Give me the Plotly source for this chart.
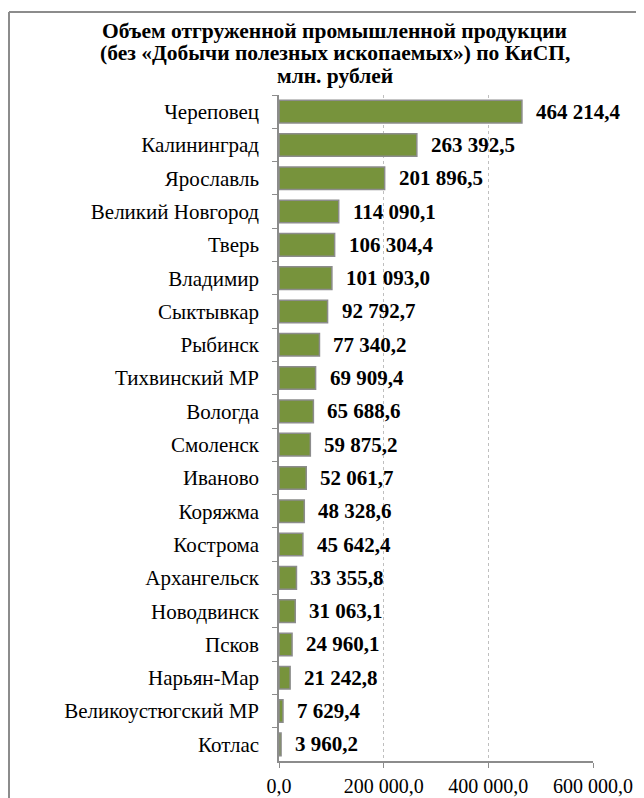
import plotly.graph_objects as go

categories = ["Череповец", "Калининград", "Ярославль", "Великий Новгород", "Тверь",
              "Владимир", "Сыктывкар", "Рыбинск", "Тихвинский МР", "Вологда",
              "Смоленск", "Иваново", "Коряжма", "Кострома", "Архангельск",
              "Новодвинск", "Псков", "Нарьян-Мар", "Великоустюгский МР", "Котлас"]
values = [464214.4, 263392.5, 201896.5, 114090.1, 106304.4,
          101093.0, 92792.7, 77340.2, 69909.4, 65688.6,
          59875.2, 52061.7, 48328.6, 45642.4, 33355.8,
          31063.1, 24960.1, 21242.8, 7629.4, 3960.2]
tick_vals = [0, 200000, 400000, 600000]
tick_text = ["0,0", "200 000,0", "400 000,0", "600 000,0"]
title_lines = ["Объем отгруженной промышленной продукции",
               "(без «Добычи полезных ископаемых») по КиСП,",
               "млн. рублей"]


def fmt(v):
    s = f"{v:,.1f}".replace(",", " ").replace(".", ",")
    return s


FONT = "Liberation Serif"

# page is offset by the 8px body margin
W, H = 636, 790
L, R, T, B = 271, 51, 87, 37
PW, PH = W - L - R, H - T - B

fig = go.Figure()
fig.add_trace(go.Bar(
    x=values, y=categories, orientation="h",
    marker=dict(color="#77933C", line=dict(color="#8C8C8C", width=1.5)),
    hoverinfo="skip",
))

for c, v in zip(categories, values):
    fig.add_annotation(x=v, y=c, text=f"<b>{fmt(v)}</b>", showarrow=False,
                       xanchor="left", xshift=12, yshift=0,
                       font=dict(family=FONT, size=21, color="black"))

title_centers = [23, 45.3, 67.6]  # div pixels from top
for line, cy in zip(title_lines, title_centers):
    fig.add_annotation(xref="paper", yref="paper",
                       x=(326.7 - L) / PW, y=1 + (T - cy) / PH,
                       text=f"<b>{line}</b>", showarrow=False,
                       xanchor="center", yanchor="middle",
                       font=dict(family=FONT, size=21.5, color="black"))

fx = (1 - L) / PW
fy = 1 + (T - 4) / PH
fig.update_layout(
    width=W, height=H,
    margin=dict(l=L, r=R, t=T, b=B),
    paper_bgcolor="white", plot_bgcolor="white",
    bargap=0.32,
    showlegend=False,
    font=dict(family=FONT, size=21, color="black"),
    xaxis=dict(range=[0, 600000], tickvals=tick_vals, ticktext=tick_text,
               showgrid=True, gridcolor="#BFBFBF", griddash="dot", gridwidth=1,
               showline=True, linecolor="#8C8C8C", linewidth=1.5,
               ticks="outside", ticklen=5, tickcolor="#8C8C8C", automargin=False,
               ticklabelstandoff=1,
               zeroline=False, tickfont=dict(family=FONT, size=20, color="black")),
    yaxis=dict(autorange="reversed", showline=True, linecolor="#8C8C8C", linewidth=1.5,
               ticks="outside", ticklen=5, tickcolor="#8C8C8C", tickson="boundaries",
               ticklabelstandoff=14, showgrid=False, automargin=False,
               tickfont=dict(family=FONT, size=21, color="black")),
    shapes=[
        dict(type="line", xref="paper", yref="paper", x0=fx, x1=1.5,
             y0=fy, y1=fy, line=dict(color="#8C8C8C", width=2)),
        dict(type="line", xref="paper", yref="paper", x0=fx, x1=fx,
             y0=fy, y1=-0.1, line=dict(color="#8C8C8C", width=2)),
    ],
)

fig.write_html("out.html")
